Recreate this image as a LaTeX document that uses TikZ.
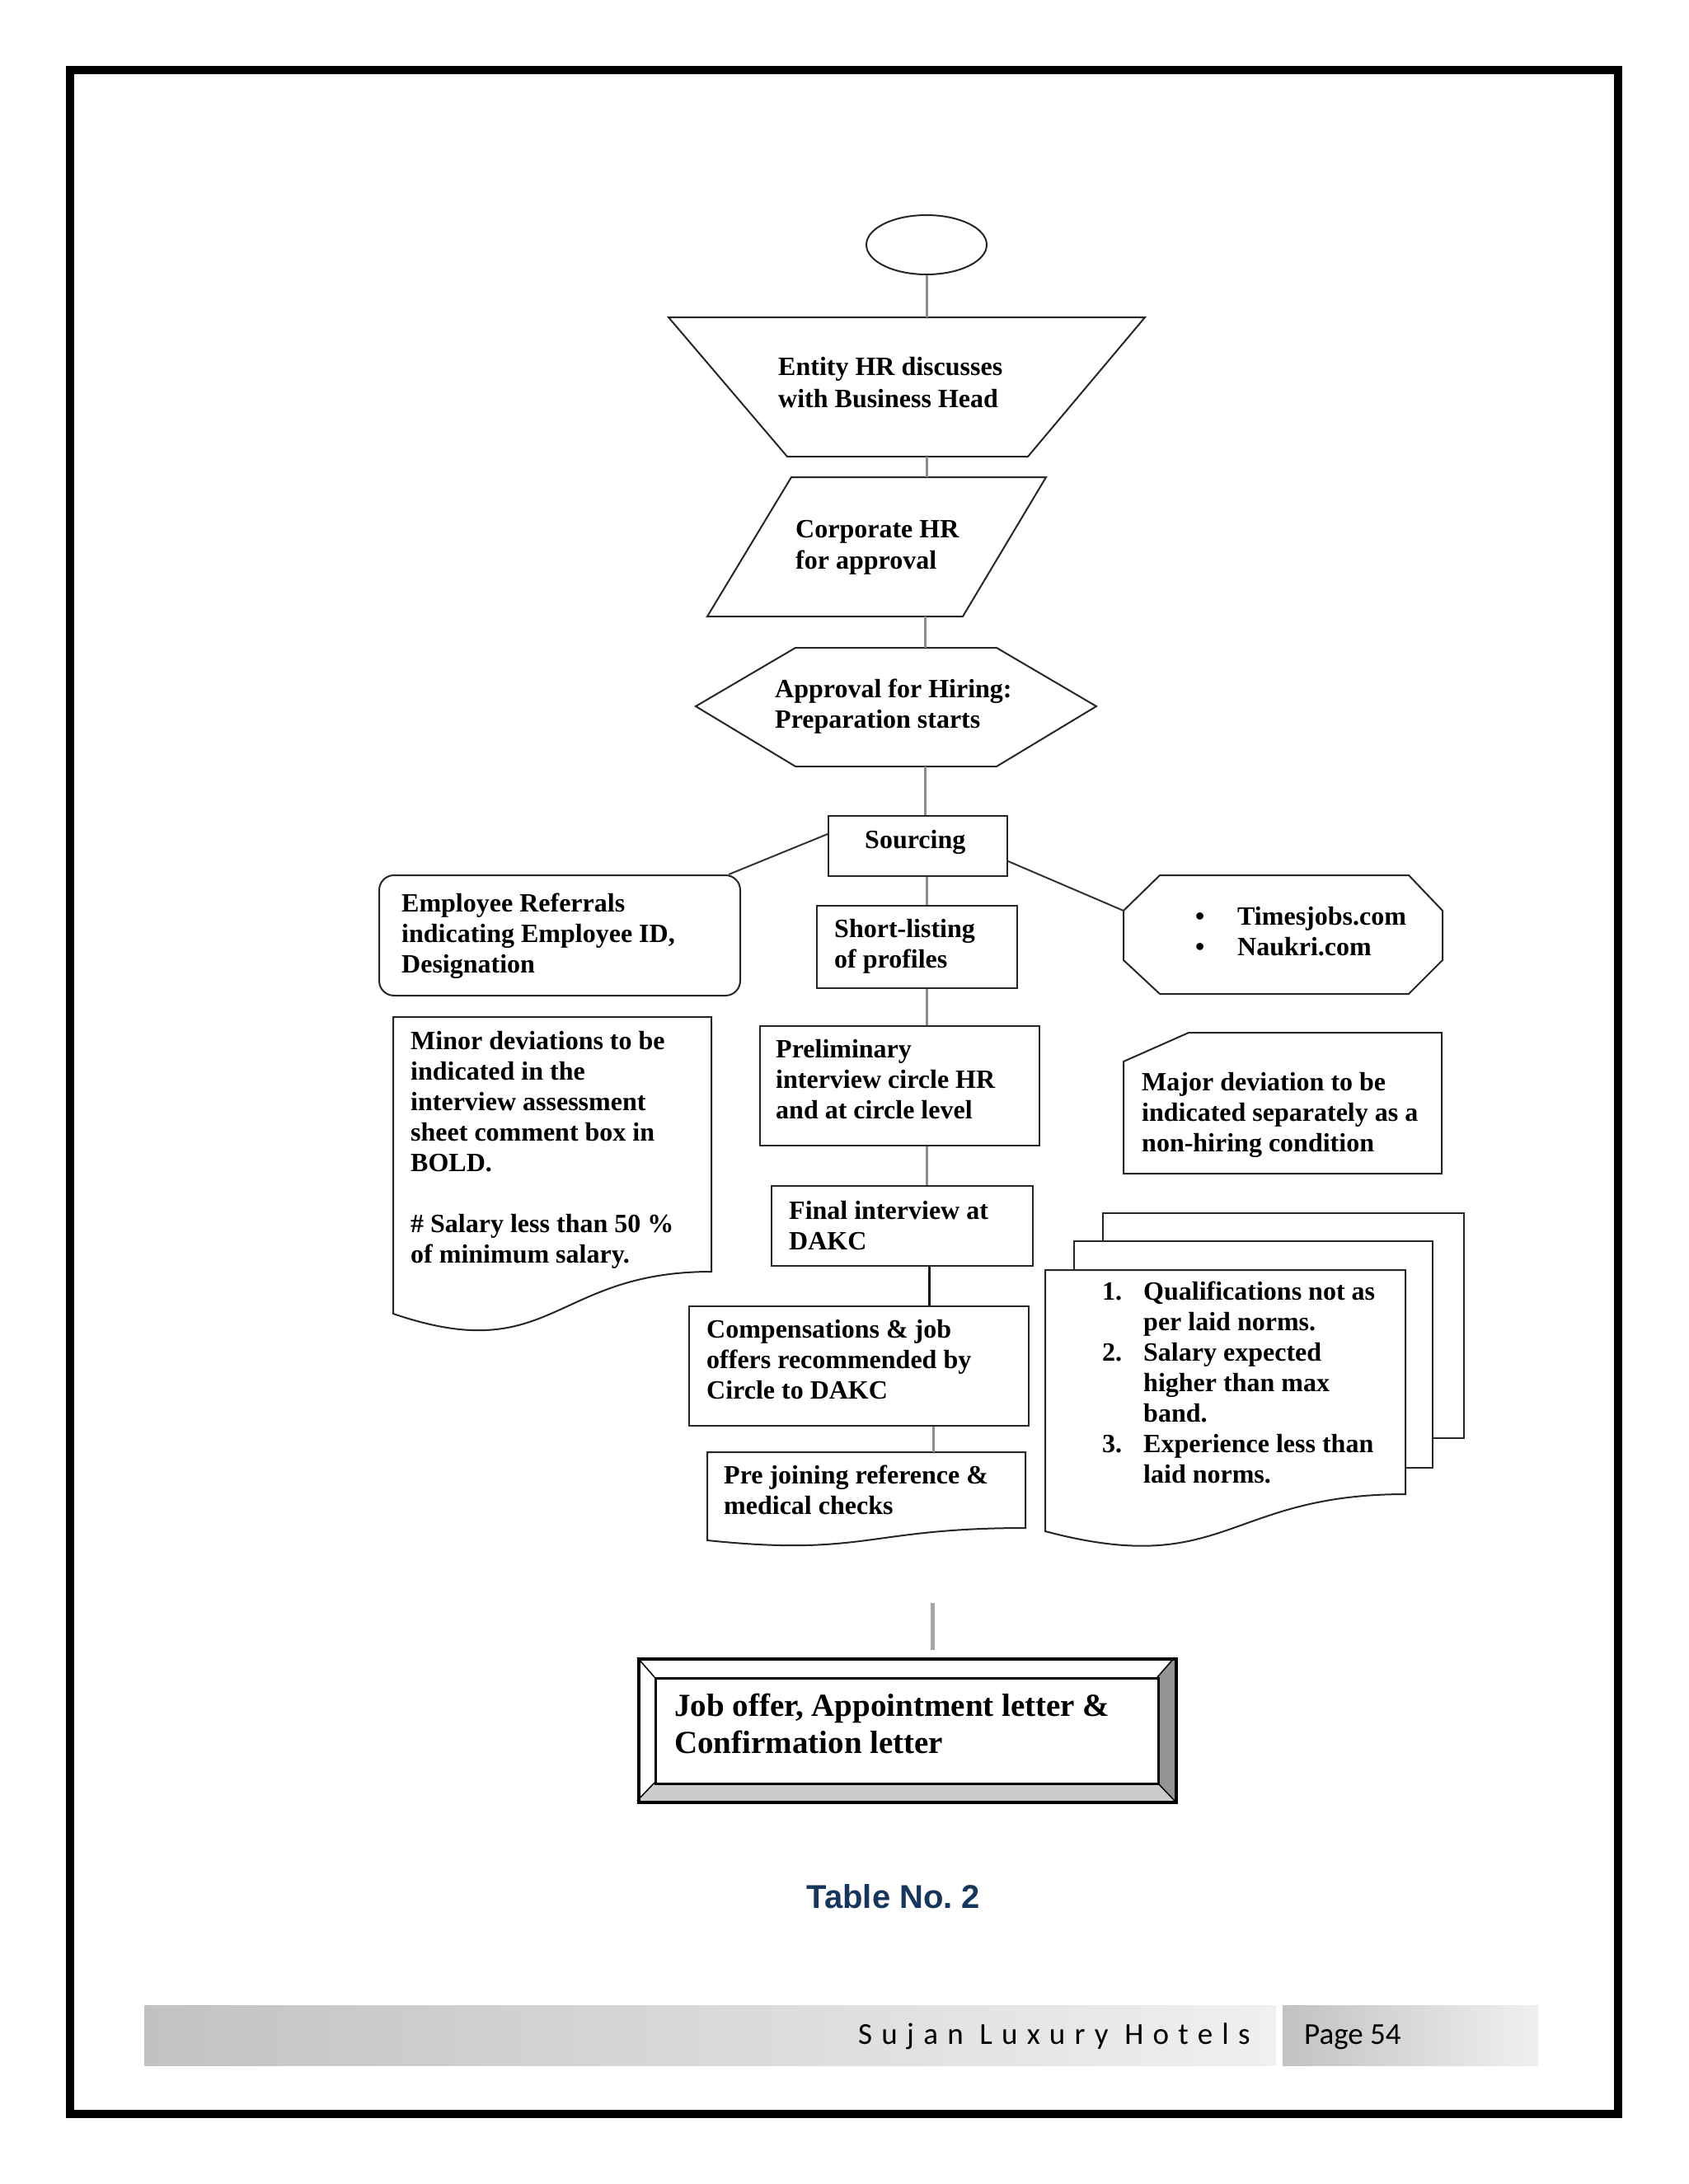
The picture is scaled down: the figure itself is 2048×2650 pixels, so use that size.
\documentclass[tikz,border=0pt]{standalone}
\usepackage{fontspec}
\setmainfont{Liberation Serif}
\newfontfamily\calibf{Carlito}
\newfontfamily\arialf{Liberation Sans}
\usetikzlibrary{shapes.geometric}
\definecolor{conncol}{RGB}{140,140,140}
\definecolor{navy}{RGB}{23,54,93}
\definecolor{barA}{RGB}{194,193,196}
\definecolor{barB}{RGB}{240,239,242}
\newcommand\mlines[1]{\vtop{\halign{##\hfil\cr#1\crcr}}}
\begin{document}
\begin{tikzpicture}[x=1pt,y=-1pt,
  shp/.style={draw=black!85, line width=2pt, fill=white},
  conn/.style={draw=conncol, line width=3pt},
  darkconn/.style={draw=black!80, line width=2pt},
  txt/.style={font=\fontsize{32}{37}\selectfont\bfseries, inner sep=0pt, anchor=base west},
  boxr/.style={shp, rectangle, inner sep=0pt, anchor=north west}]
\useasboundingbox (0,0) rectangle (2048,2650);
\fill[white] (0,0) rectangle (2048,2650);
% page border
\draw[line width=10pt, black] (85,85) rectangle (1963,2565);

% start ellipse
\node[shp, ellipse, inner sep=0pt, minimum width=146, minimum height=72] (start) at (1124,297) {};

% trapezoid
\draw[shp] (811,385) -- (1389,385) -- (1247,554) -- (955,554) -- cycle;
\coordinate (trapT) at (1124,385);
\coordinate (trapB) at (1124,554);
\node[txt, font=\fontsize{32}{39}\selectfont\bfseries] (trapText) at (944,455) {\mlines{Entity HR discusses\cr with Business Head}};

% parallelogram
\draw[shp] (960,579) -- (1269,579) -- (1168,748) -- (858,748) -- cycle;
\coordinate (parT) at (1124,579);
\coordinate (parB) at (1122,748);
\node[txt, font=\fontsize{32}{38}\selectfont\bfseries] (parText) at (965,652) {\mlines{Corporate HR\cr for approval}};

% hexagon
\draw[shp] (965,786) -- (1209,786) -- (1330,857) -- (1209,930) -- (965,930) -- (844,857) -- cycle;
\coordinate (hexT) at (1122,786);
\coordinate (hexB) at (1122,930);
\node[txt] (hexText) at (940,846) {\mlines{Approval for Hiring:\cr Preparation starts}};

% sourcing
\node[boxr, minimum width=217, minimum height=73] (src) at (1004,989) {};
\node[txt] (srcText) at (1049,1029) {Sourcing};

% employee referrals
\node[boxr, rounded corners=18pt, minimum width=438, minimum height=146] (emp) at (459,1061) {};
\node[txt] (empText) at (487,1106) {\mlines{Employee Referrals\cr indicating Employee ID,\cr Designation}};

% octagon
\draw[shp] (1407,1062) -- (1709,1062) -- (1750,1105) -- (1750,1165) -- (1709,1206) -- (1407,1206) -- (1363,1165) -- (1363,1105) -- cycle;
\coordinate (octUL) at (1363,1105);
\node[txt] (octText) at (1450,1122) {\mlines{\makebox[51pt][l]{\textbullet}Timesjobs.com\cr \makebox[51pt][l]{\textbullet}Naukri.com}};

% short-listing
\node[boxr, minimum width=243, minimum height=100] (sl) at (990,1098) {};
\node[txt] (slText) at (1012,1137) {\mlines{Short-listing\cr of profiles}};

% preliminary
\node[boxr, minimum width=339, minimum height=145] (pre) at (921,1244) {};
\node[txt] (preText) at (941,1283) {\mlines{Preliminary\cr interview circle HR\cr and at circle level}};

% minor deviations document
\draw[shp] (477,1234) -- (863,1234) -- (863,1543) .. controls (670,1543) and (670,1660) .. (477,1594) -- cycle;
\node[txt] (minText) at (498,1273) {\mlines{Minor deviations to be\cr indicated in the\cr interview assessment\cr sheet comment box in\cr BOLD.\cr\cr \# Salary less than 50 \%\cr of minimum salary.}};

% major deviation (snipped corner)
\draw[shp] (1442,1253) -- (1749,1253) -- (1749,1424) -- (1363,1424) -- (1363,1288) -- cycle;
\node[txt] (majText) at (1385,1323) {\mlines{Major deviation to be\cr indicated separately as a\cr non-hiring condition}};

% final interview
\node[boxr, minimum width=317, minimum height=97] (fin) at (935,1438) {};
\node[txt] (finText) at (957,1479) {\mlines{Final interview at\cr DAKC}};

% compensations
\node[boxr, minimum width=412, minimum height=145] (comp) at (835,1584) {};
\node[txt] (compText) at (857,1623) {\mlines{Compensations \& job\cr offers recommended by\cr Circle to DAKC}};

% pre-joining document
\draw[shp] (858,1762) -- (1244,1762) -- (1244,1854) .. controls (1051,1854) and (1051,1889) .. (858,1869) -- cycle;
\coordinate (pjT) at (1132,1762);
\node[txt] (pjText) at (878,1800) {\mlines{Pre joining reference \&\cr medical checks}};

% multi-document
\draw[shp] (1338,1472) rectangle (1776,1745);
\draw[shp] (1303,1506) rectangle (1738,1781);
\draw[shp] (1268,1541) -- (1705,1541) -- (1705,1813) .. controls (1487,1813) and (1487,1916) .. (1268,1858) -- cycle;
\node[txt] (mdText) at (1337,1577) {\mlines{\makebox[50pt][l]{1.}Qualifications not as\cr \hspace*{50pt}per laid norms.\cr \makebox[50pt][l]{2.}Salary expected\cr \hspace*{50pt}higher than max\cr \hspace*{50pt}band.\cr \makebox[50pt][l]{3.}Experience less than\cr \hspace*{50pt}laid norms.}};

% bevel box
\fill[white] (773,2011) rectangle (1425,2185);
\fill[black!42] (1404,2035) -- (1425,2011) -- (1425,2185) -- (1404,2163) -- cycle;
\fill[black!20] (794,2163) -- (1404,2163) -- (1425,2185) -- (773,2185) -- cycle;
\draw[line width=1.5pt] (773,2011) -- (794,2035) (1425,2011) -- (1404,2035) (773,2185) -- (794,2163) (1425,2185) -- (1404,2163);
\node[draw=black, line width=3pt, rectangle, inner sep=0pt, anchor=north west, minimum width=610, minimum height=128] (bevIn) at (794,2035) {};
\node[draw=black, line width=4pt, rectangle, inner sep=0pt, anchor=north west, minimum width=652, minimum height=174] (bev) at (773,2011) {};
\node[txt, font=\fontsize{39}{45}\selectfont\bfseries] (bevText) at (818,2082) {\mlines{Job offer, Appointment letter \&\cr Confirmation letter}};

% connectors
\coordinate (colA) at (1124,0);
\coordinate (colB) at (1127,0);
\coordinate (colC) at (1132,0);
\coordinate (endA) at (1131,1945);
\coordinate (endB) at (1131,2002);
\draw[conn] (start.south) -- (trapT);
\draw[conn] (trapB) -- (parT);
\draw[conn] (parB) -- (hexT);
\draw[conn] (hexB) -- (hexB |- src.north);
\draw[conn] (colA |- src.south) -- (colA |- sl.north);
\draw[conn] (colA |- sl.south) -- (colA |- pre.north);
\draw[conn] (colA |- pre.south) -- (colA |- fin.north);
\draw[darkconn, line width=3pt, draw=black!90] (colB |- fin.south) -- (colB |- comp.north);
\draw[conn] (colC |- comp.south) -- (pjT);
\draw[conn, line width=5pt, draw=black!35] (endA) -- (endB);
\draw[darkconn] ([yshift=-23pt]src.north west) -- ([xshift=-15pt]emp.north east);
\draw[darkconn] ([yshift=-56pt]src.north east) -- (octUL);

% caption
\node[font=\arialf\bfseries\fontsize{40}{46}\selectfont, text=navy, inner sep=0pt, anchor=base] (caption) at (1084,2315) {Table No.\ 2};

% footer
\shade[left color=barA, right color=barB] (175,2433) rectangle (1548,2506);
\shade[left color=barA, right color=barB] (1556,2433) rectangle (1866,2506);
\node[font=\calibf\fontsize{37}{44}\selectfont\addfontfeature{LetterSpace=30.5}, inner sep=0pt, anchor=base west] (footer) at (1041,2480) {Sujan Luxury Hotels};
\node[font=\calibf\fontsize{37}{44}\selectfont, inner sep=0pt, anchor=base west] (page) at (1582,2480) {Page 54};
\end{tikzpicture}
\end{document}
